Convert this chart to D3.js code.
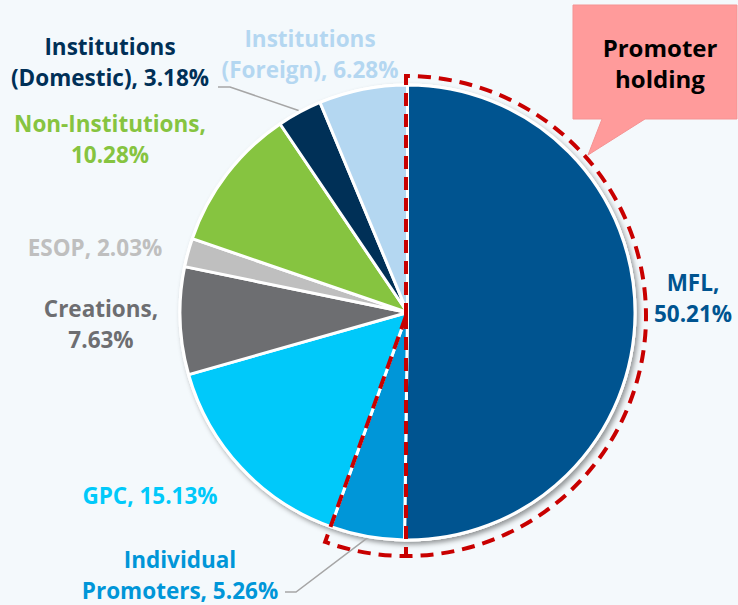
<!DOCTYPE html>
<html>
<head>
<meta charset="utf-8">
<script src="https://cdn.jsdelivr.net/npm/d3@7"></script>
<style>
  html, body { margin: 0; padding: 0; background: #F4F9FC; }
  svg { display: block; }
  text { font-family: "Open Sans", "Noto Sans", sans-serif; font-weight: 700; }
</style>
</head>
<body>
<svg id="chart" width="738" height="605"></svg>
<script>
// ---- data ----
const categories = ["MFL", "Individual Promoters", "GPC", "Creations", "ESOP",
                    "Non-Institutions", "Institutions (Domestic)", "Institutions (Foreign)"];
const values = [50.21, 5.26, 15.13, 7.63, 2.03, 10.28, 3.18, 6.28];
const labelLines = [
  ["MFL,", "50.21%"],
  ["Individual", "Promoters, 5.26%"],
  ["GPC, 15.13%"],
  ["Creations,", "7.63%"],
  ["ESOP, 2.03%"],
  ["Non-Institutions,", "10.28%"],
  ["Institutions", "(Domestic), 3.18%"],
  ["Institutions", "(Foreign), 6.28%"]
];
const promoterGroup = ["MFL", "Individual Promoters"];
const calloutText = ["Promoter", "holding"];

// ---- styles / layout ----
const colors = ["#005490", "#0096D8", "#00C9FA", "#6D6E71", "#BFBFBF", "#86C440", "#003057", "#B4D7F1"];
const labelAnchor = [ // x centre, first baseline
  [693, 291], [180, 568], [150, 504], [101, 317], [95, 256], [110, 132], [110, 55], [310, 47]
];
const lineGap = 30.5;
const cx = 407.5, cy = 312.5, R = 227.5;

const svg = d3.select("#chart");
const defs = svg.append("defs");
const f = defs.append("filter").attr("id", "shadow")
  .attr("x", "-20%").attr("y", "-20%").attr("width", "140%").attr("height", "140%");
f.append("feDropShadow").attr("dx", 2.5).attr("dy", 3).attr("stdDeviation", 2.5)
  .attr("flood-color", "#000").attr("flood-opacity", 0.4);

svg.append("rect").attr("width", 738).attr("height", 605).attr("fill", "#F4F9FC");

const pie = d3.pie().sort(null).value(d => d);
const arcs = pie(values);
const arc = d3.arc().innerRadius(0).outerRadius(R);

const g = svg.append("g").attr("transform", `translate(${cx},${cy})`);
g.append("circle").attr("r", R + 1.5).attr("fill", "#fff").attr("filter", "url(#shadow)");
g.selectAll("path.slice").data(arcs).join("path")
  .attr("class", "slice")
  .attr("d", arc)
  .attr("fill", (d, i) => colors[i])
  .attr("stroke", "#fff")
  .attr("stroke-width", 3)
  .attr("stroke-linejoin", "round");

// ---- dashed promoter outline ----
const pIdx = promoterGroup.map(n => categories.indexOf(n));
const endAngle = d3.max(pIdx, i => arcs[i].endAngle);
const Rd = 240;
const dash = { color: "#C80000", width: 4, pattern: "13,8" };
const dg = svg.append("g").attr("transform", `translate(${cx - 1.5},${cy + 3.5})`);
const outline = d3.path();
outline.moveTo(0, 0);
outline.lineTo(0, -Rd);
outline.arc(0, 0, Rd, -Math.PI / 2, endAngle - Math.PI / 2, false);
outline.closePath();
dg.append("path").attr("d", outline.toString())
  .attr("fill", "none").attr("stroke", dash.color).attr("stroke-width", dash.width)
  .attr("stroke-dasharray", dash.pattern);
dg.append("line").attr("x1", 0).attr("y1", 0).attr("x2", 0).attr("y2", Rd)
  .attr("stroke", dash.color).attr("stroke-width", dash.width).attr("stroke-dasharray", dash.pattern);

// ---- leader lines ----
function leader(i, x0, y0, x1) {
  const a = arcs[i];
  const mid = (a.startAngle + a.endAngle) / 2;
  const px = cx + (R + 2) * Math.sin(mid), py = cy - (R + 2) * Math.cos(mid);
  svg.append("polyline")
    .attr("points", `${x0},${y0} ${x1},${y0} ${px},${py}`)
    .attr("fill", "none").attr("stroke", "#A6A6A6").attr("stroke-width", 1.5);
}
leader(categories.indexOf("Institutions (Domestic)"), 218, 87, 230);
leader(categories.indexOf("Individual Promoters"), 285, 592, 296);

// ---- labels ----
labelLines.forEach((lines, i) => {
  const t = svg.append("text")
    .attr("text-anchor", "middle")
    .attr("font-size", 22.5)
    .attr("fill", colors[i]);
  lines.forEach((ln, j) => {
    t.append("tspan").attr("x", labelAnchor[i][0]).attr("y", labelAnchor[i][1] + j * lineGap).text(ln);
  });
});

// ---- callout ----
const cp = d3.path();
cp.moveTo(573, 5); cp.lineTo(737, 5); cp.lineTo(737, 119);
cp.lineTo(645, 119); cp.lineTo(588, 155); cp.lineTo(602, 119);
cp.lineTo(573, 119); cp.closePath();
svg.append("path").attr("d", cp.toString()).attr("fill", "#FF9B9B")
  .attr("stroke", "#F59393").attr("stroke-width", 1);
const ct = svg.append("text").attr("text-anchor", "middle").attr("font-size", 24).attr("fill", "#000");
calloutText.forEach((ln, j) => {
  ct.append("tspan").attr("x", 660).attr("y", 57 + j * 31).text(ln);
});
</script>
</body>
</html>
